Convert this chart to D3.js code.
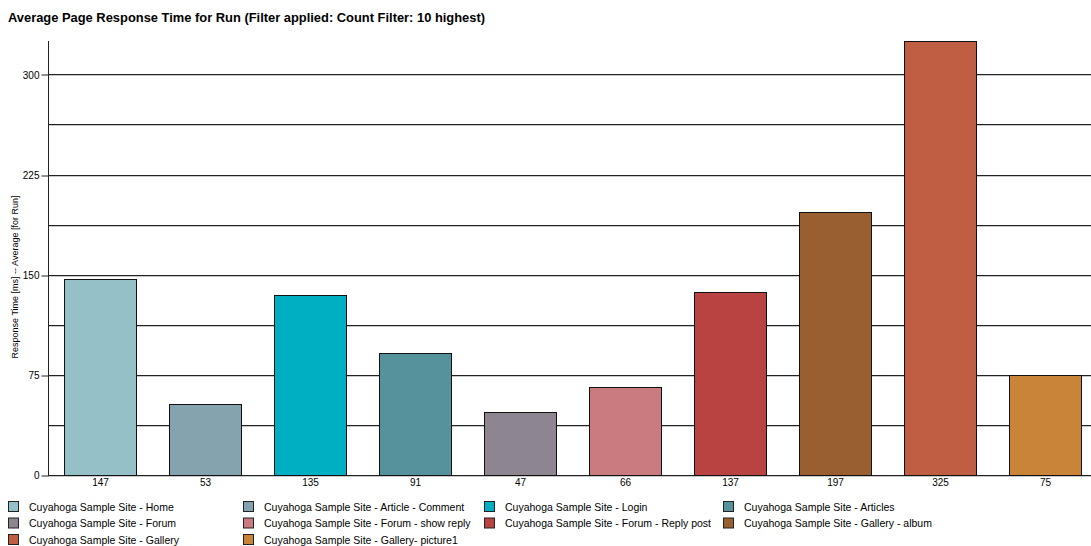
<!DOCTYPE html>
<html>
<head>
<meta charset="utf-8">
<script src="https://cdn.jsdelivr.net/npm/d3@7"></script>
<style>
  body { margin: 0; background: #fff; }
  svg { display: block; font-family: "Liberation Sans", Arial, sans-serif; }
</style>
</head>
<body>
<main></main>
<script>
const width = 1091;
const height = 546;
const plotLeft = 48;
const plotTop = 41;
const plotBottom = 475;

const pages = ["Cuyahoga Sample Site - Home", "Cuyahoga Sample Site - Article - Comment", "Cuyahoga Sample Site - Login",
  "Cuyahoga Sample Site - Articles", "Cuyahoga Sample Site - Forum", "Cuyahoga Sample Site - Forum - show reply",
  "Cuyahoga Sample Site - Forum - Reply post", "Cuyahoga Sample Site - Gallery - album", "Cuyahoga Sample Site - Gallery",
  "Cuyahoga Sample Site - Gallery- picture1"];
const times = [147, 53, 135, 91, 47, 66, 137, 197, 325, 75];
const colors = ['#96C0C7', '#84A3AF', '#00AFC2', '#56929C', '#8D8690', '#C97B7F', '#B94340', '#995F31', '#BF5E42', '#C9843A'];
const gridTicks = [0, 37.5, 75, 112.5, 150, 187.5, 225, 262.5, 300];
const labelTicks = [0, 75, 150, 225, 300];

let svg;

const createSvg = () => {
    return d3.select('main')
             .append('svg')
             .attr('width', width)
             .attr('height', height);
};

const createScales = () => {
    const xScale = d3.scaleBand()
                     .domain(pages)
                     .range([plotLeft, plotLeft + 1050])
                     .paddingInner(0.314)
                     .paddingOuter(0.157);
    const yScale = d3.scaleLinear()
                     .domain([0, 325])
                     .range([plotBottom, plotTop]);
    return {xScale, yScale};
};

const createTitle = () => {
    svg.append('text')
       .attr('x', 8)
       .attr('y', 22)
       .style('font-weight', 'bold')
       .style('font-size', '12.9px')
       .text('Average Page Response Time for Run (Filter applied: Count Filter: 10 highest)');

    svg.append('text')
       .attr('transform', 'translate(18, 277) rotate(-90)')
       .attr('text-anchor', 'middle')
       .style('font-size', '9px')
       .text('Response Time [ms] -- Average [for Run]');
};

const createGrid = (scales) => {
    const g = svg.append('g');
    // light shadow under each line
    g.selectAll('line.shadow')
     .data(gridTicks)
     .enter()
     .append('line')
     .attr('x1', plotLeft)
     .attr('x2', width)
     .attr('y1', (d) => Math.round(scales.yScale(d)) + 1.5)
     .attr('y2', (d) => Math.round(scales.yScale(d)) + 1.5)
     .attr('stroke', '#c8c8c8');
    g.selectAll('line.grid')
     .data(gridTicks)
     .enter()
     .append('line')
     .attr('x1', plotLeft)
     .attr('x2', width)
     .attr('y1', (d) => Math.round(scales.yScale(d)) + 0.5)
     .attr('y2', (d) => Math.round(scales.yScale(d)) + 0.5)
     .attr('stroke', '#222');
};

const createAxis = (scales) => {
    const yAxis = svg.append('g')
       .attr('transform', 'translate(' + (plotLeft + 0.5) + ', 0.5)')
       .call(d3.axisLeft(scales.yScale).tickValues(labelTicks).tickSize(7).tickPadding(2).tickFormat(d3.format('d')));
    yAxis.select('.domain').remove();
    yAxis.selectAll('text').style('font-size', '10px').attr('fill', '#000');
    yAxis.selectAll('line').attr('stroke', '#222')
         .attr('transform', (d) => 'translate(0,' + (Math.round(scales.yScale(d)) - scales.yScale(d)) + ')');

    svg.append('line')
       .attr('x1', plotLeft + 0.5)
       .attr('x2', plotLeft + 0.5)
       .attr('y1', plotTop)
       .attr('y2', plotBottom + 1)
       .attr('stroke', '#222');

    const xAxis = svg.append('g')
       .attr('transform', 'translate(0, ' + plotBottom + ')')
       .call(d3.axisBottom(scales.xScale).tickSize(0).tickPadding(4).tickFormat((d, i) => times[i]));
    xAxis.select('.domain').remove();
    xAxis.selectAll('text').style('font-size', '10px').attr('fill', '#000');
};

const createBars = (scales) => {
    svg.selectAll('rect.bar')
       .data(times)
       .enter()
       .append('rect')
       .attr('class', 'bar')
       .attr('x', (d, i) => Math.round(scales.xScale(pages[i])) + 0.5)
       .attr('y', (d) => Math.round(scales.yScale(d)) + 0.5)
       .attr('width', Math.round(scales.xScale.bandwidth()))
       .attr('height', (d) => Math.round(scales.yScale(0)) - Math.round(scales.yScale(d)))
       .attr('fill', (d, i) => colors[i])
       .attr('stroke', '#111');
};

const createLegend = () => {
    const colX = [8, 243, 484, 723];
    const rowY = [501, 517.5, 534];
    const items = svg.append('g')
       .selectAll('g')
       .data(pages)
       .enter()
       .append('g')
       .attr('transform', (d, i) => 'translate(' + colX[i % 4] + ',' + rowY[Math.floor(i / 4)] + ')');
    items.append('rect')
         .attr('x', 0.5)
         .attr('y', 0.5)
         .attr('width', 10)
         .attr('height', 10)
         .attr('fill', (d, i) => colors[i])
         .attr('stroke', '#222');
    items.append('text')
         .attr('x', 21)
         .attr('y', 9.5)
         .style('font-size', '10.5px')
         .text((d) => d);
};

const driver = () => {
    svg = createSvg();
    const scales = createScales();
    createTitle();
    createGrid(scales);
    createBars(scales);
    createAxis(scales);
    createLegend();
};

driver();
</script>
</body>
</html>
